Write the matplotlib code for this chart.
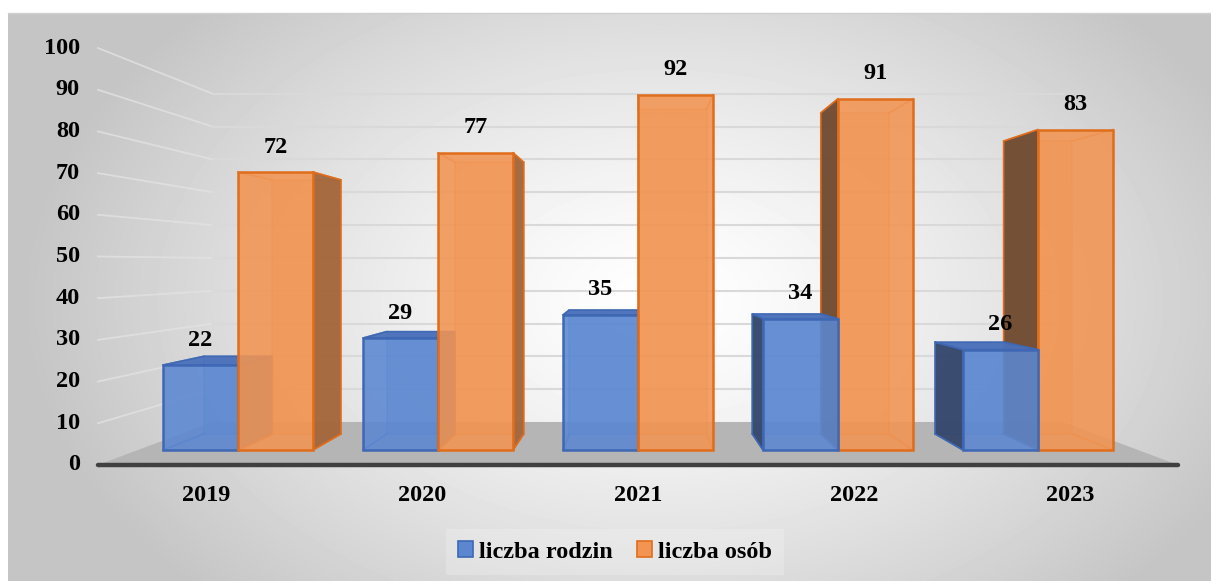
import numpy as np
import matplotlib.pyplot as plt
from matplotlib.patches import Polygon, Patch

# data
years = ['2019', '2020', '2021', '2022', '2023']
rodziny = [22, 29, 35, 34, 26]
osoby = [72, 77, 92, 91, 83]
yticks = list(range(0, 101, 10))
legend_labels = ['liczba rodzin', 'liczba osób']

plt.rcParams['font.family'] = ['Liberation Serif', 'DejaVu Serif']
plt.rcParams['font.weight'] = 'bold'
FS = 17.5

W, H = 1211, 581
fig = plt.figure(figsize=(W / 100, H / 100), dpi=100)

# radial grey background of the chart area
bg = fig.add_axes([8 / W, 0, 1 - 8 / W, (H - 13) / H])
yy, xx = np.mgrid[0:568, 0:1203]
d = np.sqrt(((xx + 8 - 660) / 640.0) ** 2 + ((yy + 13 - 300) / 420.0) ** 2)
g = np.clip(1 - 0.23 * d ** 1.3, 0.77, 1)
bg.imshow(g, cmap='gray', vmin=0, vmax=1, aspect='auto', extent=(0, 1, 0, 1))
bg.axis('off')
fig.add_artist(plt.Line2D([8 / W, 1], [(H - 13) / H] * 2, color='#cfcfcf', lw=1))

ax = fig.add_axes([0, 0, 1, 1])
ax.patch.set_visible(False)
ax.set_xlim(-1.19, 4.865)
ax.set_ylim(-33.94, 116.58)
ax.axis('off')

# simple one-point perspective: scale toward vanishing point
VP = (2.0, 48.4)
S_FRONT, S_BACK = 1.08, 0.85      # floor depth
B_FRONT, B_BACK = 1.0, 0.914      # bar depth


def proj(x, v, s):
    return (VP[0] + s * (x - VP[0]), VP[1] + s * (v - VP[1]))


n = len(years)
xl, xr = -0.5, n - 0.5

# floor
floor = [proj(xl, 0, S_FRONT), proj(xr, 0, S_FRONT), proj(xr, 0, S_BACK), proj(xl, 0, S_BACK)]
ax.add_patch(Polygon(floor, closed=True, fc='#b5b5b5', ec='none', zorder=1))
p0, p1 = proj(xl, 0, S_FRONT), proj(xr, 0, S_FRONT)
ax.plot([p0[0], p1[0]], [p0[1], p1[1]], color='#404040', lw=3.2, solid_capstyle='round', zorder=2)

# gridlines (side wall + back wall) and y labels
for v in yticks:
    a, b, c = proj(xl, v, S_FRONT), proj(xl, v, S_BACK), proj(xr, v, S_BACK)
    if v > 0:
        ax.plot([a[0], b[0]], [a[1], b[1]], color='#e2e2e2', lw=1.3, alpha=0.8, zorder=0.5)
        ax.plot([b[0], c[0]], [b[1], c[1]], color='#d9d9d9', lw=1.5, zorder=0.5)
    ax.annotate(str(v), a, xytext=(-13, 0), textcoords='offset points',
                ha='right', va='center', fontsize=FS, color='black')

# x labels
for i, yr in enumerate(years):
    ax.annotate(yr, proj(i, 0, S_FRONT), xytext=(0, -22), textcoords='offset points',
                ha='center', va='center', fontsize=FS, color='black')

blue = dict(front='#5b87d1', top='#4a70ba', left='#34466b', right='#4a6aa8', edge='#3f68b4')
orange = dict(front='#f29452', top='#f6a266', left='#6e4a31', right='#a3663b', edge='#e06d1c')


def draw_box(x0, x1, v, c, z):
    fr = [proj(x0, 0, B_FRONT), proj(x1, 0, B_FRONT), proj(x1, v, B_FRONT), proj(x0, v, B_FRONT)]
    bk = [proj(x0, 0, B_BACK), proj(x1, 0, B_BACK), proj(x1, v, B_BACK), proj(x0, v, B_BACK)]
    # hidden back edges
    ax.add_patch(Polygon(bk, closed=True, fc=c['front'], alpha=0.35, ec=c['edge'], lw=1.2, zorder=z))
    for k in range(4):
        ax.plot([fr[k][0], bk[k][0]], [fr[k][1], bk[k][1]], color=c['edge'], lw=1.2, alpha=0.7, zorder=z)
    if x0 > VP[0]:
        ax.add_patch(Polygon([fr[0], fr[3], bk[3], bk[0]], closed=True, fc=c['left'],
                             ec=c['edge'], lw=1.2, alpha=0.95, zorder=z + 0.01))
    if x1 < VP[0]:
        ax.add_patch(Polygon([fr[1], fr[2], bk[2], bk[1]], closed=True, fc=c['right'],
                             ec=c['edge'], lw=1.2, alpha=0.95, zorder=z + 0.01))
    if v < VP[1]:
        ax.add_patch(Polygon([fr[3], fr[2], bk[2], bk[3]], closed=True, fc=c['top'],
                             ec=c['edge'], lw=1.2, alpha=0.95, zorder=z + 0.02))
    ax.add_patch(Polygon(fr, closed=True, fc=c['front'], alpha=0.88, ec='none', zorder=z + 0.03))
    ax.add_patch(Polygon(fr, closed=True, fill=False, ec=c['edge'], lw=1.8, zorder=z + 0.04))


bw = 0.375
boxes = []
for i in range(n):
    boxes.append((i - bw, i, rodziny[i], blue))
    boxes.append((i, i + bw, osoby[i], orange))
# farthest from the vanishing point first
boxes.sort(key=lambda b: -abs((b[0] + b[1]) / 2 - VP[0]))
for k, (x0, x1, v, c) in enumerate(boxes):
    draw_box(x0, x1, v, c, 3 + k * 0.1)

# data labels
for i in range(n):
    ax.annotate(str(rodziny[i]), (i - bw / 2, rodziny[i]), xytext=(0, 18), textcoords='offset points',
                ha='center', va='center', fontsize=FS, color='black', zorder=10)
    ax.annotate(str(osoby[i]), (i + bw / 2, osoby[i]), xytext=(0, 18), textcoords='offset points',
                ha='center', va='center', fontsize=FS, color='black', zorder=10)

handles = [Patch(fc=blue['front'], ec=blue['edge'], lw=1.2),
           Patch(fc=orange['front'], ec=orange['edge'], lw=1.2)]
leg = fig.legend(handles, legend_labels, loc='center', bbox_to_anchor=(615 / W, 1 - 552 / H),
                 ncol=2, fontsize=FS, frameon=True, handlelength=0.6, handleheight=0.6,
                 handletextpad=0.25, columnspacing=1.0, borderpad=0.5, fancybox=False)
leg.get_frame().set_facecolor('#f4f4f4')
leg.get_frame().set_alpha(0.3)
leg.get_frame().set_edgecolor('none')

fig.savefig('out.png', dpi=100)
